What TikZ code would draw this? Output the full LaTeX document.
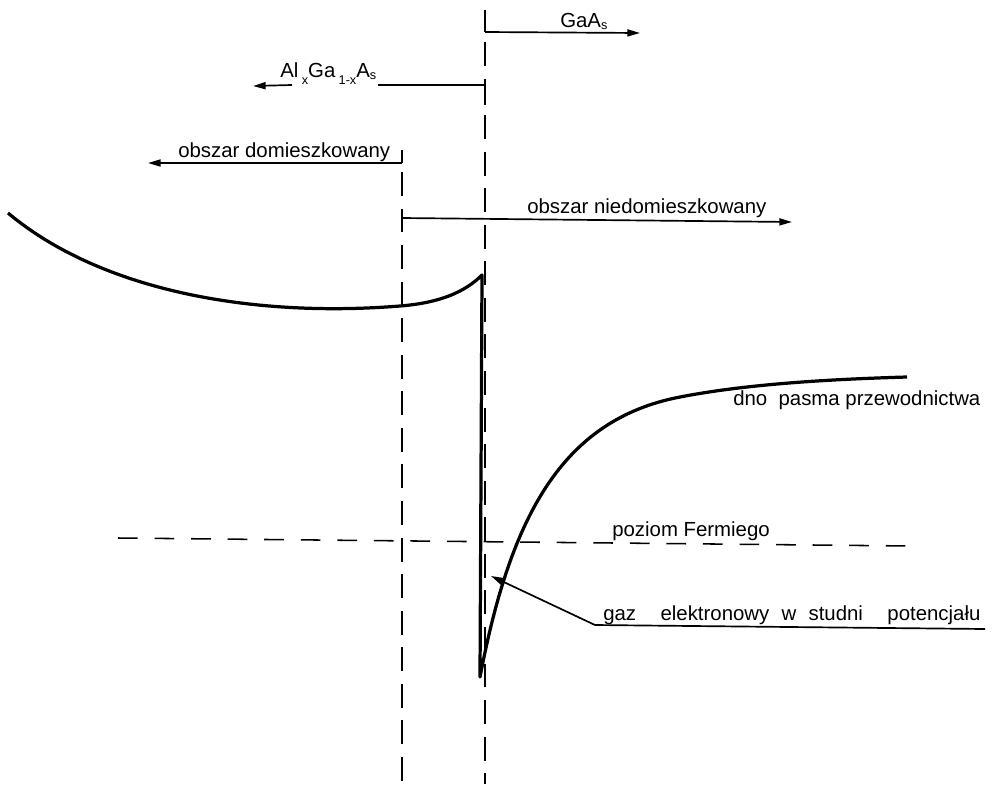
\documentclass[tikz,border=0pt]{standalone}
\usepackage{fontspec}
\setmainfont{Liberation Sans}
\usetikzlibrary{arrows.meta}
\begin{document}
\begin{tikzpicture}[x=0.025cm,y=-0.025cm,
  thinln/.style={line width=1.2pt},
  arr/.style={thinln,-{Triangle[length=9pt,width=5pt]}},
  band/.style={line width=2.3pt,line join=round},
  vdash/.style={line width=1.2pt,dash pattern=on 17pt off 9pt},
  hdash/.style={line width=1.1pt,dash pattern=on 14pt off 12pt},
  lbl/.style={font=\fontsize{14.5}{17}\selectfont,inner sep=0pt,anchor=base west}]
\useasboundingbox (0,0) rectangle (1000,784);

% vertical interface lines
\coordinate (i1top) at (485,10);
\coordinate (i1bot) at (485,784);
\coordinate (i2top) at (402,150);
\coordinate (i2bot) at (402,784);
\draw[thinln] (i1top) -- (485,32);
\draw[vdash] (485,42) -- (i1bot);
\draw[thinln] (485,85) -- (485,105);
\draw[thinln] (i2top) -- (402,163);
\draw[vdash] (402,172) -- (i2bot);

% GaAs
\coordinate (g0) at (485,32);
\coordinate (g1) at (640,33);
\draw[arr] (g0) -- (g1);
\node[lbl] (gaas) at (560,27) {GaA\raisebox{-1.5pt}{\small s}};

% AlGaAs
\coordinate (a0) at (485,85);
\coordinate (a1) at (378,85);
\coordinate (a2) at (292,85);
\coordinate (a3) at (253,86);
\draw[thinln] (a0) -- (a1);
\draw[arr] (a2) -- (a3);
\node[lbl] (algaas) at (280,77) {Al\,\raisebox{-5pt}{\small x}Ga\,\raisebox{-5pt}{\small 1-x}A\raisebox{-1.5pt}{\small s}};

% obszar domieszkowany
\coordinate (d0) at (402,163);
\coordinate (d1) at (148,163);
\draw[arr] (d0) -- (d1);
\node[lbl] (dom) at (178,157) {obszar domieszkowany};

% obszar niedomieszkowany
\coordinate (n0) at (402,218);
\coordinate (n1) at (792,222);
\draw[arr] (n0) -- (n1);
\node[lbl] (ndom) at (527,213) {obszar niedomieszkowany};

% conduction band
\coordinate (b0) at (8,213);
\coordinate (b1) at (400,306);
\coordinate (b2) at (482,275);
\coordinate (b3) at (480,677);
\coordinate (b4) at (680,397);
\coordinate (b5) at (907,377);
\draw[band] (b0) .. controls (100,290) and (250,318) .. (b1)
  .. controls (440,302.8) and (465,292) .. (b2)
  -- (b3)
  .. controls (510,520) and (560,420) .. (b4)
  .. controls (752,383) and (840,379) .. (b5);
\node[lbl] (dno) at (733,405) {dno\ \ pasma przewodnictwa};

% Fermi level
\coordinate (f0) at (118,538);
\coordinate (f1) at (912,546);
\draw[hdash] (f0) -- (f1);
\node[lbl] (fermi) at (612,536) {poziom Fermiego};

% electron gas
\coordinate (e0) at (595,625);
\coordinate (e1) at (985,629);
\coordinate (e2) at (491,576);
\draw[thinln] (e1) -- (e0);
\draw[arr] (e0) -- (e2);
\node[lbl] (gaz) at (603,620) {gaz\hspace{1.2em}elektronowy\hspace{0.6em}w\hspace{0.6em}studni\hspace{1.2em}potencjału};
\end{tikzpicture}
\end{document}
